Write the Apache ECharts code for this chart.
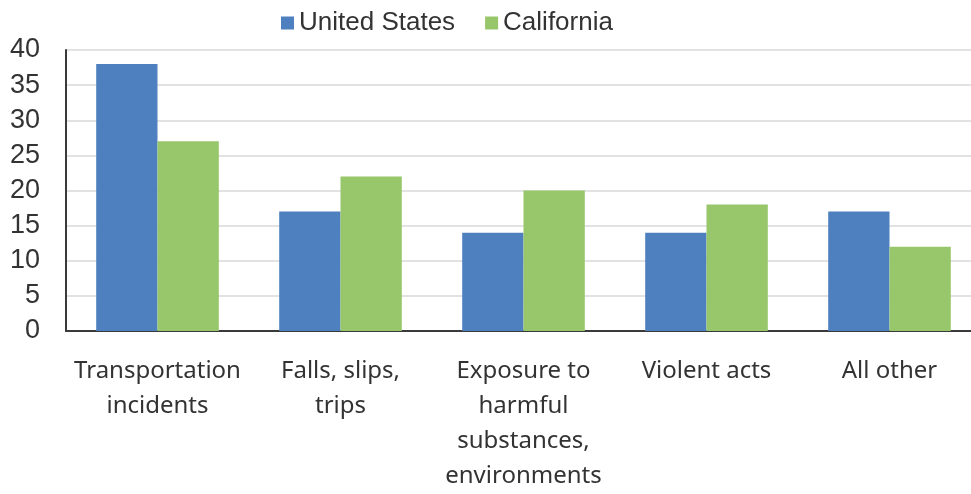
<!DOCTYPE html>
<html>
<head>
<meta charset="utf-8">
<script src="https://cdn.jsdelivr.net/npm/echarts@6/dist/echarts.min.js"></script>
<style>
  html, body { margin: 0; padding: 0; background: #fff; overflow: hidden; }
  /* the plot runs a little past the right edge of the window */
  #chart { width: 981px; height: 494px; }
</style>
</head>
<body>
<div id="chart"></div>
<script>
// Fatal work injuries by event type, percent of total
const categories = [
  'Transportation\nincidents',
  'Falls, slips,\ntrips',
  'Exposure to\nharmful\nsubstances,\nenvironments',
  'Violent acts',
  'All other'
];
const unitedStates = [38, 17, 14, 14, 17];
const california = [27, 22, 20, 18, 12];
const seriesNames = ['United States', 'California'];
const yTicks = { min: 0, max: 40, interval: 5 };

const chart = echarts.init(document.getElementById('chart'), null, { renderer: 'canvas' });

chart.setOption({
  animation: false,
  backgroundColor: '#ffffff',
  legend: {
    top: 5,
    left: 276,
    itemWidth: 13,
    itemHeight: 13,
    itemGap: 30,
    icon: 'rect',
    textStyle: { fontFamily: 'Liberation Sans', fontSize: 26, color: '#333' },
    data: seriesNames
  },
  grid: { left: 66, right: 0, top: 50, bottom: 161 },
  xAxis: {
    type: 'category',
    data: categories,
    axisLine: { lineStyle: { color: '#3a3a3a', width: 2 } },
    axisTick: { show: false },
    axisLabel: {
      interval: 0,
      margin: 23,
      fontFamily: 'Noto Sans',
      fontSize: 24,
      lineHeight: 35,
      color: '#333',
      verticalAlign: 'top'
    }
  },
  yAxis: {
    type: 'value',
    min: yTicks.min,
    max: yTicks.max,
    interval: yTicks.interval,
    axisLine: { show: true, lineStyle: { color: '#3a3a3a', width: 2 } },
    axisTick: { show: false },
    splitLine: { lineStyle: { color: '#d9d9d9', width: 1.5 } },
    axisLabel: {
      margin: 26,
      fontFamily: 'Liberation Sans',
      fontSize: 27,
      color: '#333'
    }
  },
  series: [
    {
      name: seriesNames[0],
      type: 'bar',
      data: unitedStates,
      itemStyle: { color: '#4e80bf' },
      barGap: '0%',
      barCategoryGap: '33%'
    },
    {
      name: seriesNames[1],
      type: 'bar',
      data: california,
      itemStyle: { color: '#97c76a' },
      barGap: '0%',
      barCategoryGap: '33%'
    }
  ]
});
</script>
</body>
</html>
